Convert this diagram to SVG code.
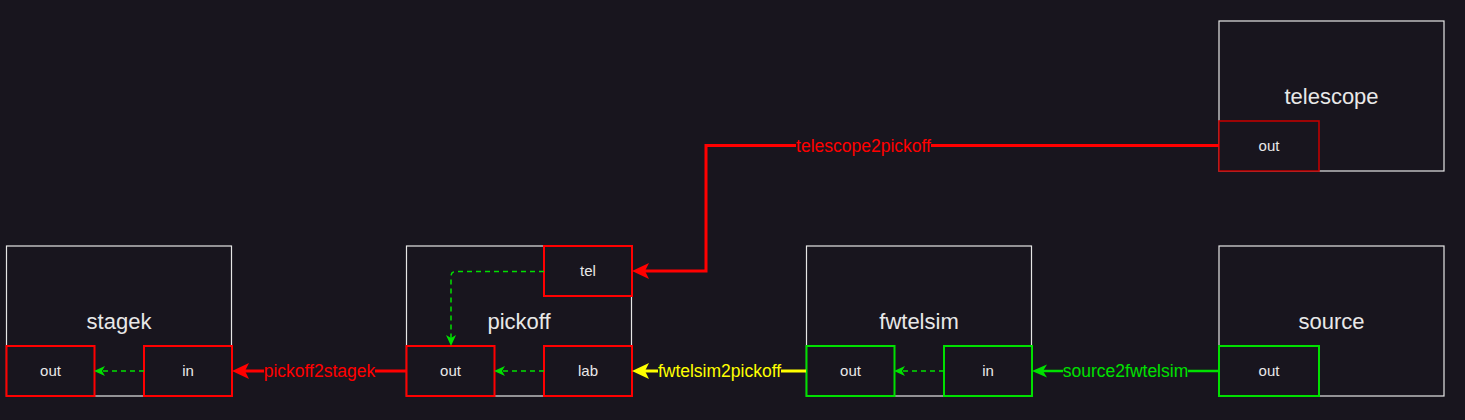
<svg xmlns="http://www.w3.org/2000/svg" width="1465" height="420" viewBox="0 0 1465 420">
<style>
.node{fill:#18151e;stroke:#e6e6e6;stroke-width:1.2}
.pr{fill:#18151e;stroke:#ff0000;stroke-width:2}
.pg{fill:#18151e;stroke:#00e000;stroke-width:2}
.pd{fill:#18151e;stroke:#c00000;stroke-width:1.6}
.nl{font-family:"Liberation Sans",Arial,sans-serif;font-size:22px;fill:#e8e8e8;text-anchor:middle}
.pl{font-family:"Liberation Sans",Arial,sans-serif;font-size:15px;fill:#e8e8e8;text-anchor:middle}
.cl{font-family:"Liberation Sans",Arial,sans-serif;font-size:17.5px;text-anchor:middle;dominant-baseline:central}
.lbg{fill:#18151e}
.dash{fill:none;stroke:#00e000;stroke-width:1.5;stroke-dasharray:5 4}
</style>
<defs>
<marker id="ar" markerUnits="userSpaceOnUse" markerWidth="17" markerHeight="16" refX="11" refY="8" orient="auto" overflow="visible">
<path d="M0,0 L17,8 L0,16 L4,8 Z" fill="#ff0000"/>
</marker>
<marker id="ay" markerUnits="userSpaceOnUse" markerWidth="17" markerHeight="16" refX="11" refY="8" orient="auto" overflow="visible">
<path d="M0,0 L17,8 L0,16 L4,8 Z" fill="#ffff00"/>
</marker>
<marker id="ag" markerUnits="userSpaceOnUse" markerWidth="15" markerHeight="13" refX="10" refY="6.5" orient="auto" overflow="visible">
<path d="M0,0 L15,6.5 L0,13 L4,6.5 Z" fill="#00e000"/>
</marker>
<marker id="ad" markerUnits="userSpaceOnUse" markerWidth="11" markerHeight="10" refX="8" refY="5" orient="auto" overflow="visible">
<path d="M0,0 L11,5 L0,10 L3,5 Z" fill="#00e000"/>
</marker>
</defs>
<rect width="1465" height="420" fill="#18151e"/>

<g id="stagek">
<rect class="node" x="6.5" y="246" width="225" height="150"/>
<text class="nl" x="119" y="329">stagek</text>
<rect class="pr" x="6.5" y="346" width="88" height="50"/>
<text class="pl" x="50.5" y="376">out</text>
<rect class="pr" x="144" y="346" width="88" height="50"/>
<text class="pl" x="188" y="376">in</text>
</g>

<g id="pickoff">
<rect class="node" x="406.5" y="246" width="225" height="150"/>
<text class="nl" x="519" y="329">pickoff</text>
<rect class="pr" x="544" y="246" width="88" height="50"/>
<text class="pl" x="588" y="276">tel</text>
<rect class="pr" x="406.5" y="346" width="88" height="50"/>
<text class="pl" x="450.5" y="376">out</text>
<rect class="pr" x="544" y="346" width="88" height="50"/>
<text class="pl" x="588" y="376">lab</text>
</g>

<g id="fwtelsim">
<rect class="node" x="806.5" y="246" width="225" height="150"/>
<text class="nl" x="919" y="329">fwtelsim</text>
<rect class="pg" x="806.5" y="346" width="88" height="50"/>
<text class="pl" x="850.5" y="376">out</text>
<rect class="pg" x="944" y="346" width="88" height="50"/>
<text class="pl" x="988" y="376">in</text>
</g>

<g id="source">
<rect class="node" x="1219" y="246" width="225" height="150"/>
<text class="nl" x="1331.5" y="329">source</text>
<rect class="pg" x="1219" y="346" width="100" height="50"/>
<text class="pl" x="1269" y="376">out</text>
</g>

<g id="telescope">
<rect class="node" x="1219" y="21" width="225" height="150"/>
<text class="nl" x="1331.5" y="104">telescope</text>
<rect class="pd" x="1219" y="121" width="100" height="50"/>
<text class="pl" x="1269" y="151">out</text>
</g>

<g id="connectors">
<path d="M1219,145.5 L706,145.5 L706,271 L638,271" fill="none" stroke="#ff0000" stroke-width="3" marker-end="url(#ar)"/>
<rect class="lbg" x="796" y="134" width="135" height="22"/>
<text class="cl" x="863.5" y="145.5" fill="#ff0000">telescope2pickoff</text>

<path d="M406,371 L238,371" fill="none" stroke="#ff0000" stroke-width="3" marker-end="url(#ar)"/>
<rect class="lbg" x="264" y="360" width="111" height="22"/>
<text class="cl" x="319.5" y="371" fill="#ff0000">pickoff2stagek</text>

<path d="M806,371 L638,371" fill="none" stroke="#ffff00" stroke-width="3" marker-end="url(#ay)"/>
<rect class="lbg" x="658" y="360" width="123" height="22"/>
<text class="cl" x="719.5" y="371" fill="#ffff00">fwtelsim2pickoff</text>

<path d="M1219,371 L1037,371" fill="none" stroke="#00e000" stroke-width="2.5" marker-end="url(#ag)"/>
<rect class="lbg" x="1063" y="360" width="125" height="22"/>
<text class="cl" x="1125.5" y="371" fill="#00e000">source2fwtelsim</text>

<path class="dash" d="M544,271.5 L456,271.5 Q451,271.5 451,276.5 L451,343" marker-end="url(#ad)"/>
<path class="dash" d="M544,371 L497,371" marker-end="url(#ad)"/>
<path class="dash" d="M144,371 L97,371" marker-end="url(#ad)"/>
<path class="dash" d="M944,371 L897,371" marker-end="url(#ad)"/>
</g>
</svg>
